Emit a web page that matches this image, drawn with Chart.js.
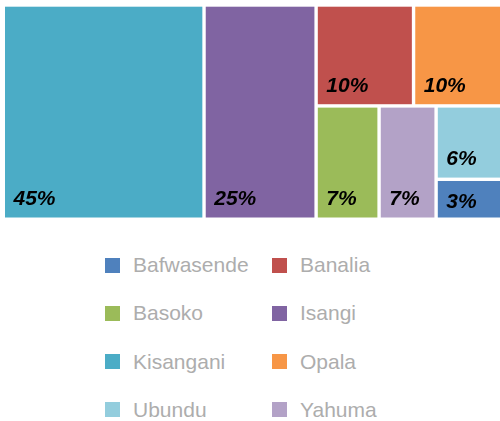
<!DOCTYPE html>
<html>
<head>
<meta charset="utf-8">
<script src="https://cdn.jsdelivr.net/npm/chart.js@4.4.1/dist/chart.umd.min.js"></script>
<style>
  html, body { margin: 0; padding: 0; background: #fff; overflow: hidden; }
  #wrap { position: relative; width: 500px; height: 421px; overflow: hidden; }
  #wrap canvas { position: absolute; left: 0; top: 0; }
  #legend { position: absolute; left: 0; top: 0; font-family: "Liberation Sans", Arial, sans-serif; font-size: 21px; color: #adadad; }
  .box { position: absolute; width: 15px; height: 15px; }
  .txt { position: absolute; height: 24px; line-height: 24px; white-space: nowrap; }
</style>
</head>
<body>
<div id="wrap">
  <canvas id="c" width="512" height="224"></canvas>
  <div id="legend"></div>
</div>
<script>
// territoires (ordre de la légende)
const categories = ['Bafwasende', 'Banalia', 'Basoko', 'Isangi', 'Kisangani', 'Opala', 'Ubundu', 'Yahuma'];
const values = [3.1, 10.2, 7.4, 24.9, 44.6, 10.2, 5.7, 6.7];
const colors = ['#4F81BD', '#C0504D', '#9BBB59', '#8064A2', '#4BACC6', '#F79646', '#93CDDD', '#B3A2C7'];

// pire rapport d'aspect d'une rangée (algorithme squarified)
function worst(areas, side) {
  const s = areas.reduce((a, b) => a + b, 0);
  const mx = Math.max(...areas), mn = Math.min(...areas);
  return Math.max(side * side * mx / (s * s), (s * s) / (side * side * mn));
}

function squarify(items, rect) {
  const out = [];
  let r = { ...rect };
  let i = 0;
  while (i < items.length) {
    const side = Math.min(r.w, r.h);
    const row = [items[i++]];
    while (i < items.length) {
      const a = row.map(o => o.area);
      if (worst(a.concat(items[i].area), side) < worst(a, side)) row.push(items[i++]);
      else break;
    }
    const s = row.reduce((t, o) => t + o.area, 0);
    if (r.w >= r.h) {
      const cw = s / r.h; let y = r.y;
      row.forEach(o => { const h = o.area / cw; out.push({ ...o, x: r.x, y, w: cw, h }); y += h; });
      r = { x: r.x + cw, y: r.y, w: r.w - cw, h: r.h };
    } else {
      const rh = s / r.w; let x = r.x;
      row.forEach(o => { const w = o.area / rh; out.push({ ...o, x, y: r.y, w, h: rh }); x += w; });
      r = { x: r.x, y: r.y + rh, w: r.w, h: r.h - rh };
    }
  }
  return out;
}

const treemapPlugin = {
  id: 'treemap',
  afterDatasetsDraw(chart) {
    const { ctx, scales: { x, y } } = chart;
    const x0 = x.getPixelForValue(0), x1 = x.getPixelForValue(1);
    const y0 = y.getPixelForValue(0), y1 = y.getPixelForValue(1);
    const W = x1 - x0, H = y1 - y0;
    const total = values.reduce((a, b) => a + b, 0);
    const items = categories.map((c, i) => ({ name: c, value: values[i], color: colors[i], area: values[i] / total * W * H }))
      .sort((a, b) => b.value - a.value);
    const cells = squarify(items, { x: x0, y: y0, w: W, h: H });
    const gap = 1.7;
    ctx.save();
    cells.forEach(c => {
      const l = c.x + gap, t = c.y + gap, w = c.w - 2 * gap, h = c.h - 2 * gap;
      ctx.fillStyle = c.color;
      ctx.fillRect(l, t, w, h);
      // étiquette en bas à gauche
      ctx.fillStyle = '#000';
      ctx.font = 'italic bold 21px "Liberation Sans", Arial, sans-serif';
      ctx.textBaseline = 'alphabetic';
      ctx.textAlign = 'left';
      const pad = Math.min(12.5, h * 0.25);
      ctx.fillText(Math.round(c.value) + '%', l + 8.5, t + h - pad);
    });
    ctx.restore();
  }
};

new Chart(document.getElementById('c'), {
  type: 'scatter',
  data: { datasets: [{ data: [] }] },
  options: {
    responsive: false,
    animation: false,
    devicePixelRatio: 1,
    layout: { padding: { left: 3.3, top: 5, right: 1, bottom: 4.8 } },
    scales: {
      x: { type: 'linear', min: 0, max: 1, display: false },
      y: { type: 'linear', min: 0, max: 1, reverse: true, display: false }
    },
    plugins: { legend: { display: false }, tooltip: { enabled: false } }
  },
  plugins: [treemapPlugin]
});

// légende HTML sur deux colonnes
const legend = document.getElementById('legend');
categories.forEach((c, i) => {
  const col = i % 2, row = Math.floor(i / 2);
  const cx = 105 + col * 167, cy = 265 + row * 48.3;
  const box = document.createElement('div');
  box.className = 'box';
  box.style.background = colors[i];
  box.style.left = cx + 'px';
  box.style.top = (cy - 7.5) + 'px';
  const txt = document.createElement('div');
  txt.className = 'txt';
  txt.textContent = c;
  txt.style.left = (cx + 28) + 'px';
  txt.style.top = (cy - 12) + 'px';
  legend.appendChild(box);
  legend.appendChild(txt);
});
</script>
</body>
</html>
